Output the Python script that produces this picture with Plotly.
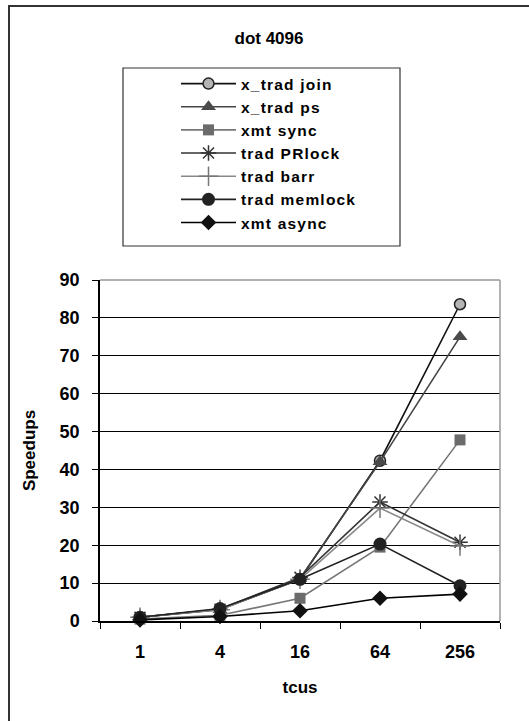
import plotly.graph_objects as go

categories = ["1", "4", "16", "64", "256"]
x_trad_join = [1.0, 3.1, 11.0, 42.3, 83.6]
x_trad_ps = [1.0, 3.0, 11.2, 42.0, 75.0]
xmt_sync = [0.5, 1.5, 6.0, 19.5, 47.8]
trad_prlock = [1.0, 3.1, 11.5, 31.4, 20.8]
trad_barr = [1.0, 3.0, 11.0, 29.8, 19.8]
trad_memlock = [1.0, 3.3, 11.0, 20.3, 9.3]
xmt_async = [0.3, 1.2, 2.7, 6.0, 7.1]

series = [
    ("x_trad join", x_trad_join, "#111111", dict(symbol="circle", size=11, color="#b4b4b4", line=dict(color="#222222", width=1.5))),
    ("x_trad ps", x_trad_ps, "#454545", dict(symbol="triangle-up", size=13, color="#4a4a4a", line=dict(width=0))),
    ("xmt sync", xmt_sync, "#777777", dict(symbol="square", size=11, color="#6b6b6b", line=dict(width=0))),
    ("trad PRlock", trad_prlock, "#333333", dict(symbol="asterisk-open", size=13, color="#333333", line=dict(color="#333333", width=1.5))),
    ("trad barr", trad_barr, "#888888", dict(symbol="cross-thin-open", size=14, color="#777777", line=dict(color="#777777", width=1.5))),
    ("trad memlock", trad_memlock, "#222222", dict(symbol="circle", size=13, color="#222222", line=dict(width=0))),
    ("xmt async", xmt_async, "#000000", dict(symbol="diamond", size=12, color="#111111", line=dict(width=0))),
]

fig = go.Figure()
for name, vals, lc, mk in series:
    fig.add_trace(go.Scatter(
        x=categories, y=vals,
        name=f'<span style="letter-spacing:1.2px">{name}</span>',
        mode="lines+markers",
        line=dict(color=lc, width=1.6), marker=mk, cliponaxis=False,
    ))

FONT = "Liberation Sans"
W, H = 529, 721
L, R, T, B = 100, 29, 280, 100
pw, ph = W - L - R, H - T - B

def px(x):
    return (x - L) / pw

def py(y):
    return (H - B - y) / ph

fig.update_layout(
    width=W, height=H,
    margin=dict(l=L, r=R, t=T, b=B),
    paper_bgcolor="white", plot_bgcolor="white",
    font=dict(family=FONT, color="black"),
    showlegend=True,
    legend=dict(
        x=px(176), y=py(67), xanchor="left", yanchor="top",
        bgcolor="rgba(0,0,0,0)", borderwidth=0,
        font=dict(family=FONT, size=15.5, color="black", weight="bold"),
        itemwidth=55, tracegroupgap=0,
    ),
    title=dict(text="<b>dot 4096</b>", x=px(269), xanchor="center", y=1 - 38 / H, yanchor="middle",
               xref="paper", font=dict(size=17, family=FONT, color="black")),
    shapes=[
        dict(type="rect", xref="paper", yref="paper", x0=px(123), x1=px(400), y0=py(246), y1=py(68),
             line=dict(color="#333333", width=1.2)),
        dict(type="path", xref="paper", yref="paper",
             path=f"M {px(9)} {py(730)} L {px(9)} {py(6)} L {px(540)} {py(6)}",
             line=dict(color="#333333", width=2)),
        dict(type="line", xref="paper", yref="paper", x0=0, x1=1, y0=1, y1=1,
             line=dict(color="#999999", width=1.5)),
        dict(type="line", xref="paper", yref="paper", x0=1, x1=1, y0=0, y1=1,
             line=dict(color="#999999", width=1.5)),
    ],
)

fig.update_xaxes(
    type="category", categoryorder="array", categoryarray=categories,
    range=[-0.5, len(categories) - 0.5],
    showgrid=False, showline=True, linecolor="black", linewidth=1.5,
    ticks="outside", tickson="boundaries", ticklen=6, tickcolor="black", tickwidth=1,
    tickfont=dict(size=18, family=FONT, color="black", weight="bold"),
    ticklabelstandoff=14,
    title=dict(text="<b>tcus</b>", font=dict(size=17, family=FONT, color="black"), standoff=20),
    zeroline=False,
)
fig.update_yaxes(
    range=[0, 90], dtick=10, tick0=0,
    showgrid=True, gridcolor="black", gridwidth=1,
    showline=True, linecolor="black", linewidth=1.5,
    ticks="outside", ticklen=6, tickcolor="black", tickwidth=1,
    tickfont=dict(size=18, family=FONT, color="black", weight="bold"),
    ticklabelstandoff=9,
    title=dict(text="<b>Speedups</b>", font=dict(size=17, family=FONT, color="black"), standoff=20),
    zeroline=False,
)

fig.write_html("out.html")
